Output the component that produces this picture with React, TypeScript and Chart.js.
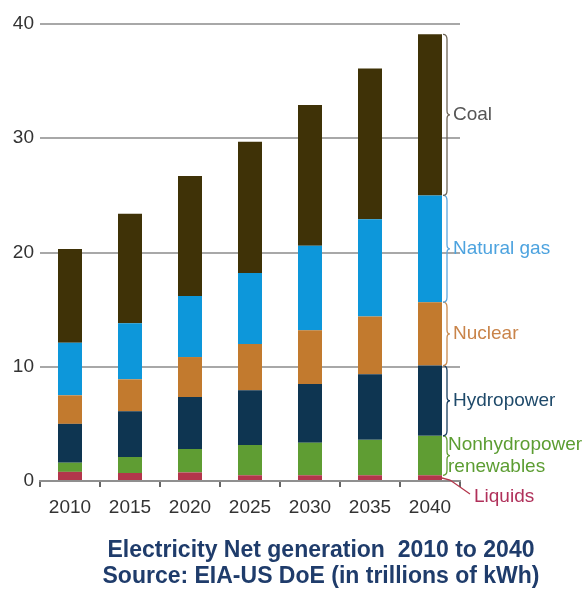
import React, { useEffect, useRef } from "react";
import { Chart, registerables } from "chart.js";
Chart.register(...registerables);

const years = ["2010", "2015", "2020", "2025", "2030", "2035", "2040"];
const liquids = [0.8, 0.7, 0.75, 0.5, 0.5, 0.5, 0.5];
const renewables = [0.8, 1.4, 2.05, 2.65, 2.85, 3.1, 3.45];
const hydropower = [3.4, 4.0, 4.55, 4.8, 5.15, 5.75, 6.15];
const nuclear = [2.5, 2.8, 3.5, 4.05, 4.7, 5.05, 5.55];
const naturalGas = [4.6, 4.9, 5.35, 6.2, 7.4, 8.5, 9.35];
const coal = [8.2, 9.6, 10.5, 11.5, 12.3, 13.2, 14.1];
const seriesNames = ["Liquids", "Nonhydropower\nrenewables", "Hydropower", "Nuclear", "Natural gas", "Coal"];
const yTicks = [0, 10, 20, 30, 40];
const titleLines = ["Electricity Net generation  2010 to 2040", "Source: EIA-US DoE (in trillions of kWh)"];

const barColors = ["#b3364b", "#5f9d33", "#0e3551", "#c27a2e", "#0d97da", "#3f3207"];
const braceColors = ["#b3364b", "#5f9d33", "#1a3f5f", "#c98a4e", "#5aa6df", "#6e6658"];
const textColors = ["#b0305a", "#5c9d32", "#1f4a6a", "#c9844a", "#4da3df", "#555555"];

const FONT = "'Liberation Sans', Arial, sans-serif";

const sideLabels = {
  id: "sideLabels",
  afterDatasetsDraw(chart: any) {
    const ctx = chart.ctx;
    const n = chart.data.datasets.length;
    ctx.save();
    for (let i = 0; i < n; i++) {
      const meta = chart.getDatasetMeta(i);
      const el: any = meta.data[meta.data.length - 1];
      const top = Math.min(el.y, el.base);
      const bottom = Math.max(el.y, el.base);
      const right = el.x + el.width / 2;
      const mid = (top + bottom) / 2;
      ctx.strokeStyle = braceColors[i];
      ctx.fillStyle = textColors[i];
      ctx.lineWidth = 1.3;
      ctx.font = `19px ${FONT}`;
      ctx.textBaseline = "middle";
      ctx.textAlign = "left";
      if (i === 0) {
        ctx.beginPath();
        ctx.moveTo(right, bottom - 2);
        ctx.lineTo(right + 8, bottom);
        ctx.lineTo(right + 28, bottom + 14);
        ctx.stroke();
        ctx.fillText(seriesNames[i], right + 32, bottom + 17);
        continue;
      }
      const x0 = right + 1;
      const w = 4;
      ctx.beginPath();
      ctx.moveTo(x0, top);
      ctx.quadraticCurveTo(x0 + w, top, x0 + w, top + 5);
      ctx.lineTo(x0 + w, mid - 4);
      ctx.quadraticCurveTo(x0 + w, mid, x0 + w + 3, mid);
      ctx.quadraticCurveTo(x0 + w, mid, x0 + w, mid + 4);
      ctx.lineTo(x0 + w, bottom - 5);
      ctx.quadraticCurveTo(x0 + w, bottom, x0, bottom);
      ctx.stroke();
      const lines = seriesNames[i].split("\n");
      const lh = 22;
      const lx = i === 1 ? right + 6 : right + 11;
      lines.forEach((t, k) => {
        ctx.fillText(t, lx, mid + (k - (lines.length - 1) / 2) * lh);
      });
    }
    ctx.restore();
  },
  afterDraw(chart: any) {
    const ctx = chart.ctx;
    ctx.save();
    ctx.font = `bold 23px ${FONT}`;
    ctx.fillStyle = "#1f3c6b";
    ctx.textAlign = "center";
    ctx.textBaseline = "middle";
    ctx.fillText(titleLines[0], 321, 551);
    ctx.fillText(titleLines[1], 321, 577);
    ctx.restore();
  },
};

export default function App() {
  const ref = useRef<HTMLCanvasElement>(null);
  useEffect(() => {
    const series = [liquids, renewables, hydropower, nuclear, naturalGas, coal];
    const chart = new Chart(ref.current!, {
      type: "bar",
      data: {
        labels: years,
        datasets: series.map((d, i) => ({
          label: seriesNames[i],
          data: d,
          backgroundColor: barColors[i],
          borderWidth: 0,
          categoryPercentage: 1,
          barPercentage: 0.4,
        })),
      },
      options: {
        animation: false,
        responsive: true,
        maintainAspectRatio: false,
        layout: { padding: { top: 24, right: 125, bottom: 0, left: 0 } },
        plugins: { legend: { display: false }, tooltip: { enabled: false }, title: { display: false } },
        scales: {
          x: {
            stacked: true,
            offset: true,
            afterFit: (s: any) => { s.height = 109; },
            grid: { display: true, drawOnChartArea: false, offset: true, tickLength: 6, color: "#666", lineWidth: 2 },
            border: { display: true, color: "#8f8f8f", width: 2 },
            ticks: { color: "#333", font: { family: FONT, size: 19 }, padding: 9 },
          },
          y: {
            stacked: true,
            min: 0,
            max: 40,
            afterFit: (s: any) => { s.width = 40; },
            afterBuildTicks: (s: any) => { s.ticks = yTicks.map((v) => ({ value: v })); },
            grid: { color: "#a8a8a8", lineWidth: 2, drawTicks: false },
            border: { display: false },
            ticks: { color: "#333", font: { family: FONT, size: 19 }, padding: 6 },
          },
        },
      },
      plugins: [sideLabels],
    } as any);
    return () => chart.destroy();
  }, []);
  return (
    <div style={{ position: "absolute", left: 0, top: 0, width: 585, height: 590, background: "#fff" }}>
      <canvas ref={ref} />
    </div>
  );
}
